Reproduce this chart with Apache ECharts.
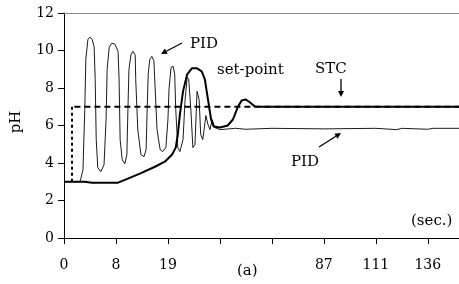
<!DOCTYPE html>
<html>
<head>
<meta charset="utf-8">
<script src="https://cdn.jsdelivr.net/npm/echarts@6/dist/echarts.min.js"></script>
<style>
  html, body { margin: 0; padding: 0; background: #fff; }
  #chart { width: 459px; height: 284px; }
</style>
</head>
<body>
<div id="chart"></div>
<script>
// x values are tick positions (the original axis ticks are evenly spaced)
var tickLabels = ['0', '8', '19', '', '', '87', '111', '136']
var xMax = 7.6

var setPointRise = [[0.154, 3.0], [0.154, 7.0]]
var setPointHold = [[0.2, 7.0], [7.6, 7.0]]

var stcPH = [
  [0, 3.0], [0.40, 3.0], [0.54, 2.95], [1.04, 2.95], [1.17, 3.1], [1.46, 3.43],
  [1.75, 3.8], [1.94, 4.07], [2.08, 4.45], [2.15, 4.82], [2.19, 5.52], [2.23, 6.59],
  [2.29, 7.82], [2.37, 8.73], [2.46, 9.05], [2.56, 9.05], [2.65, 8.89], [2.71, 8.46],
  [2.77, 7.39], [2.83, 6.32], [2.88, 5.95], [3.0, 5.89], [3.15, 6.0], [3.25, 6.32],
  [3.35, 7.02], [3.42, 7.34], [3.5, 7.39], [3.58, 7.23], [3.67, 7.02], [3.77, 7.0],
  [7.6, 7.0]
]

var pidPH = [
  [0, 3.0], [0.31, 3.0], [0.365, 3.64], [0.40, 6.86], [0.42, 9.53], [0.46, 10.6],
  [0.50, 10.71], [0.54, 10.6], [0.58, 10.18], [0.60, 8.46], [0.62, 5.25], [0.65, 3.75],
  [0.71, 3.54], [0.77, 3.91], [0.81, 6.32], [0.83, 9.0], [0.87, 10.18], [0.92, 10.39],
  [0.98, 10.34], [1.04, 9.96], [1.06, 8.46], [1.08, 5.25], [1.12, 4.18], [1.17, 3.96],
  [1.21, 4.45], [1.23, 6.86], [1.25, 9.0], [1.29, 9.8], [1.33, 9.96], [1.37, 9.75],
  [1.38, 8.46], [1.42, 5.78], [1.48, 4.45], [1.54, 4.34], [1.58, 4.71], [1.60, 6.86],
  [1.62, 8.73], [1.65, 9.53], [1.69, 9.69], [1.73, 9.43], [1.75, 8.2], [1.79, 5.78],
  [1.85, 4.71], [1.90, 4.61], [1.96, 4.82], [2.0, 6.32], [2.02, 7.93], [2.06, 9.1],
  [2.10, 9.16], [2.13, 8.73], [2.15, 6.86], [2.19, 4.82], [2.23, 4.61], [2.29, 5.25],
  [2.33, 7.39], [2.37, 8.57], [2.40, 8.46], [2.44, 6.86], [2.48, 4.82], [2.52, 4.98],
  [2.56, 7.82], [2.60, 7.39], [2.63, 5.52], [2.67, 5.25], [2.73, 6.53], [2.77, 6.05],
  [2.81, 5.78], [2.85, 6.32], [2.90, 5.89], [3.0, 5.78], [3.3, 5.85], [3.5, 5.8],
  [4.0, 5.85], [5.0, 5.82], [6.0, 5.85], [6.4, 5.78], [6.5, 5.85], [7.0, 5.8],
  [7.1, 5.85], [7.6, 5.85]
]

var serif = 'DejaVu Serif'
var chart = echarts.init(document.getElementById('chart'), null, {renderer: 'canvas'})

function arrow(x1, y1, x2, y2) {
  var a = Math.atan2(y2 - y1, x2 - x1)
  var h = 6, w = 3
  var bx = x2 - h * Math.cos(a), by = y2 - h * Math.sin(a)
  return [{
    type: 'line',
    shape: {x1: x1, y1: y1, x2: bx, y2: by},
    style: {stroke: '#000', lineWidth: 1.3}
  }, {
    type: 'polygon',
    shape: {points: [[x2, y2], [bx + w * Math.sin(a), by - w * Math.cos(a)], [bx - w * Math.sin(a), by + w * Math.cos(a)]]},
    style: {fill: '#000'}
  }]
}

function label(text, x, y, size) {
  return {
    type: 'text',
    x: x,
    y: y,
    style: {text: text, font: (size || 15) + 'px "' + serif + '"', fill: '#000', verticalAlign: 'bottom'}
  }
}

chart.setOption({
  animation: false,
  grid: {left: 64, right: 0, top: 13, bottom: 46, outerBoundsMode: 'none'},
  xAxis: [{
    type: 'value',
    min: 0,
    max: xMax,
    interval: 1,
    splitLine: {show: false},
    axisLine: {lineStyle: {color: '#000', width: 1}},
    axisTick: {show: true, length: 6, lineStyle: {color: '#000'}, customValues: [0, 1, 2, 3, 4, 5, 6, 7]},
    axisLabel: {
      margin: 20,
      color: '#000',
      fontFamily: serif,
      fontSize: 14,
      customValues: [0, 1, 2, 5, 6, 7],
      formatter: function (v) { return tickLabels[Math.round(v)] || '' }
    }
  }, {
    type: 'value',
    position: 'top',
    min: 0,
    max: xMax,
    axisLine: {show: true, lineStyle: {color: '#888', width: 1}},
    axisTick: {show: false},
    axisLabel: {show: false},
    splitLine: {show: false}
  }],
  yAxis: {
    type: 'value',
    min: 0,
    max: 12,
    interval: 2,
    splitLine: {show: false},
    axisLine: {show: true, lineStyle: {color: '#000', width: 1}},
    axisTick: {show: true, length: 6, lineStyle: {color: '#000'}},
    axisLabel: {margin: 10, color: '#000', fontFamily: serif, fontSize: 14}
  },
  series: [{
    name: 'PID',
    type: 'line',
    data: pidPH,
    showSymbol: false,
    lineStyle: {color: '#000', width: 0.9}
  }, {
    name: 'set-point rise',
    type: 'line',
    data: setPointRise,
    showSymbol: false,
    lineStyle: {color: '#000', width: 2, type: [3, 3]}
  }, {
    name: 'set-point',
    type: 'line',
    data: setPointHold,
    showSymbol: false,
    lineStyle: {color: '#000', width: 1.8, type: [6, 4]}
  }, {
    name: 'STC',
    type: 'line',
    data: stcPH,
    showSymbol: false,
    lineStyle: {color: '#000', width: 2}
  }],
  graphic: [
    label('PID', 190, 52),
    label('set-point', 217, 78),
    label('STC', 315, 77),
    label('PID', 291, 170),
    label('(sec.)', 411, 229),
    label('(a)', 237, 279),
    {
      type: 'text',
      x: 16,
      y: 122,
      rotation: Math.PI / 2,
      style: {text: 'pH', font: '15px "' + serif + '"', fill: '#000', align: 'center', verticalAlign: 'middle'}
    }
  ].concat(arrow(182, 43, 161, 54), arrow(341, 79, 341, 97), arrow(319, 147, 341, 133))
})
</script>
</body>
</html>
